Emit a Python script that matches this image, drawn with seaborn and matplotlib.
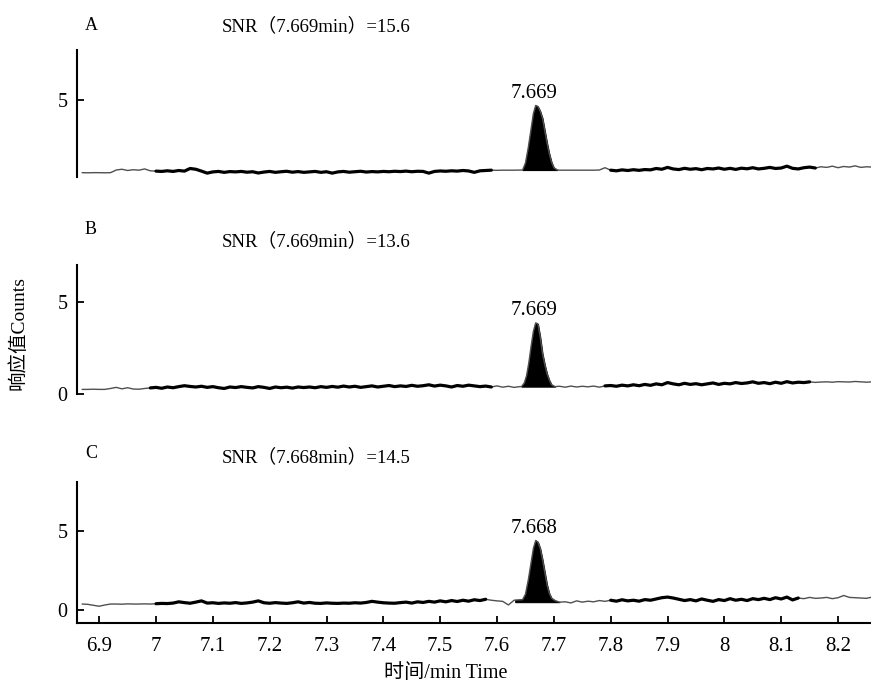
import numpy as np
import pandas as pd
import matplotlib
matplotlib.use("Agg")
import matplotlib.pyplot as plt
import seaborn as sns

# sampling grid of the baseline trace (min)
times = np.round(np.arange(6.87, 8.265, 0.01), 2)

# baseline counts, one value per 0.01 min, 6.87 .. 8.26
base_a = [0.28, 0.27, 0.28, 0.28, 0.27, 0.28, 0.45, 0.50, 0.42, 0.47,
          0.44, 0.52, 0.40, 0.38, 0.36, 0.40, 0.36, 0.42, 0.38, 0.55,
          0.50, 0.38, 0.25, 0.33, 0.36, 0.30, 0.35, 0.33, 0.36, 0.31,
          0.34, 0.26, 0.32, 0.36, 0.30, 0.34, 0.37, 0.31, 0.35, 0.30,
          0.33, 0.36, 0.30, 0.34, 0.25, 0.33, 0.36, 0.31, 0.34, 0.37,
          0.32, 0.35, 0.33, 0.36, 0.34, 0.37, 0.35, 0.38, 0.34, 0.37,
          0.36, 0.25, 0.36, 0.39, 0.37, 0.40, 0.38, 0.42, 0.39, 0.30,
          0.40, 0.42, 0.44, 0.43, 0.44, 0.44, 0.44, 0.45, 0.45, 0.45,
          0.45, 0.44, 0.44, 0.44, 0.44, 0.44, 0.44, 0.44, 0.44, 0.44,
          0.44, 0.45, 0.60, 0.44, 0.40, 0.46, 0.42, 0.47, 0.43, 0.48,
          0.46, 0.55, 0.50, 0.62, 0.52, 0.48, 0.56, 0.50, 0.54, 0.47,
          0.55, 0.52, 0.58, 0.50, 0.56, 0.49, 0.57, 0.53, 0.60, 0.52,
          0.56, 0.62, 0.55, 0.58, 0.70, 0.56, 0.52, 0.60, 0.64, 0.58,
          0.66, 0.62, 0.70, 0.60, 0.68, 0.64, 0.72, 0.62, 0.66, 0.64]
base_b = [0.25, 0.25, 0.26, 0.25, 0.25, 0.30, 0.36, 0.28, 0.34, 0.27,
          0.26, 0.30, 0.33, 0.36, 0.31, 0.38, 0.34, 0.40, 0.45, 0.41,
          0.38, 0.42, 0.36, 0.40, 0.34, 0.30, 0.38, 0.35, 0.40, 0.36,
          0.33, 0.40, 0.36, 0.30, 0.38, 0.34, 0.37, 0.32, 0.38, 0.35,
          0.38, 0.34, 0.40, 0.36, 0.41, 0.37, 0.43, 0.38, 0.42, 0.36,
          0.40, 0.44, 0.38, 0.42, 0.46, 0.40, 0.44, 0.41, 0.47, 0.42,
          0.45, 0.50, 0.43, 0.48, 0.44, 0.38, 0.46, 0.42, 0.48, 0.44,
          0.40, 0.43, 0.38, 0.44, 0.37, 0.42, 0.36, 0.40, 0.40, 0.40,
          0.40, 0.40, 0.40, 0.38, 0.42, 0.37, 0.43, 0.38, 0.42, 0.39,
          0.43, 0.37, 0.44, 0.46, 0.42, 0.48, 0.44, 0.50, 0.45, 0.52,
          0.47, 0.55, 0.50, 0.62, 0.55, 0.50, 0.58, 0.52, 0.56, 0.50,
          0.55, 0.60, 0.52, 0.58, 0.55, 0.62, 0.57, 0.60, 0.66, 0.58,
          0.62, 0.56, 0.64, 0.58, 0.67, 0.60, 0.64, 0.62, 0.66, 0.63,
          0.65, 0.66, 0.64, 0.67, 0.66, 0.65, 0.68, 0.66, 0.64, 0.66]
base_c = [0.38, 0.36, 0.30, 0.24, 0.32, 0.38, 0.38, 0.37, 0.39, 0.38,
          0.38, 0.39, 0.38, 0.40, 0.42, 0.41, 0.44, 0.52, 0.47, 0.43,
          0.50, 0.58, 0.44, 0.46, 0.42, 0.45, 0.43, 0.47, 0.42, 0.45,
          0.50, 0.58, 0.46, 0.43, 0.47, 0.44, 0.42, 0.46, 0.52, 0.44,
          0.48, 0.43, 0.42, 0.45, 0.43, 0.42, 0.44, 0.43, 0.46, 0.44,
          0.48, 0.55, 0.50, 0.46, 0.44, 0.43, 0.47, 0.50, 0.44, 0.52,
          0.48, 0.55, 0.50, 0.58, 0.52, 0.60, 0.54, 0.62, 0.56, 0.65,
          0.60, 0.68, 0.62, 0.58, 0.55, 0.32, 0.62, 0.63, 0.63, 0.63,
          0.63, 0.63, 0.60, 0.50, 0.38, 0.52, 0.45, 0.58, 0.50, 0.56,
          0.52, 0.60, 0.55, 0.62, 0.56, 0.65, 0.58, 0.62, 0.56, 0.66,
          0.62, 0.70, 0.78, 0.82, 0.76, 0.68, 0.60, 0.66, 0.58, 0.70,
          0.62, 0.55, 0.66, 0.60, 0.72, 0.62, 0.68, 0.60, 0.72, 0.66,
          0.74, 0.66, 0.78, 0.70, 0.82, 0.64, 0.76, 0.72, 0.80, 0.74,
          0.76, 0.80, 0.72, 0.78, 0.92, 0.80, 0.78, 0.76, 0.74, 0.82]

# peak profiles
peak_t_a = [7.645, 7.650, 7.655, 7.660, 7.664, 7.668, 7.672, 7.676,
            7.680, 7.684, 7.688, 7.692, 7.696, 7.700, 7.706]
peak_y_a = [0.45, 0.90, 1.90, 3.10, 4.10, 4.62, 4.55, 4.25,
            3.80, 3.00, 2.20, 1.50, 0.95, 0.60, 0.45]
peak_t_b = [7.643, 7.648, 7.652, 7.656, 7.660, 7.664, 7.668, 7.672,
            7.676, 7.680, 7.684, 7.688, 7.692, 7.696, 7.702]
peak_y_b = [0.40, 0.60, 1.00, 1.70, 2.60, 3.40, 3.86, 3.80,
            3.10, 2.20, 1.60, 1.10, 0.75, 0.50, 0.40]
peak_t_c = [7.632, 7.645, 7.650, 7.655, 7.660, 7.664, 7.668, 7.672,
            7.676, 7.680, 7.684, 7.688, 7.692, 7.696, 7.702, 7.710]
peak_y_c = [0.63, 0.66, 1.00, 1.90, 3.00, 3.90, 4.40, 4.30,
            3.90, 3.20, 2.40, 1.60, 1.05, 0.75, 0.60, 0.50]

tags = ["A", "B", "C"]
peak_rt = ["7.669", "7.669", "7.668"]
snr = ["15.6", "13.6", "14.5"]
xtick_vals = [6.9, 7.0, 7.1, 7.2, 7.3, 7.4, 7.5, 7.6, 7.7, 7.8, 7.9, 8.0, 8.1, 8.2]
xtick_labels = ["6.9", "7", "7.1", "7.2", "7.3", "7.4", "7.5", "7.6",
                "7.7", "7.8", "7.9", "8", "8.1", "8.2"]

sns.set_theme(style="white")
serif = ["Liberation Serif", "Noto Sans CJK SC", "DejaVu Sans"]
plt.rcParams["font.family"] = serif
plt.rcParams["axes.unicode_minus"] = False
plt.rcParams["text.color"] = "black"

W, H = 871, 683
fig = plt.figure(figsize=(W / 100, H / 100), dpi=100)

# axes boxes in pixels: top, bottom
boxes = [(50, 177), (265, 394), (482, 623)]
ylims = [(0, 8.2), (0, 7.0), (-0.82, 8.1)]
yticks = [[5], [0, 5], [0, 5]]
thick = [[(7.0, 7.595), (7.80, 8.16)],
         [(6.99, 7.59), (7.79, 8.15)],
         [(7.0, 7.58), (7.80, 8.13)]]
tag_y = [25, 229, 454]
snr_y = [26, 241, 457]
bases = [base_a, base_b, base_c]
peaks = [(peak_t_a, peak_y_a), (peak_t_b, peak_y_b), (peak_t_c, peak_y_c)]

left = 77
for i in range(3):
    top, bot = boxes[i]
    ax = fig.add_axes([left / W, 1 - bot / H, (W - left) / W, (bot - top) / H])

    pt, py = peaks[i]
    base = pd.DataFrame({"t": times, "y": bases[i]})
    base = base[(base.t < min(pt)) | (base.t > max(pt))]
    pk = pd.DataFrame({"t": pt, "y": py})
    df = pd.concat([base, pk]).sort_values("t").reset_index(drop=True)

    sns.lineplot(data=df, x="t", y="y", ax=ax, estimator=None, sort=False,
                 color="#505050", lw=1.0)
    for a, b in thick[i]:
        seg = df[(df.t >= a) & (df.t <= b)]
        sns.lineplot(data=seg, x="t", y="y", ax=ax, estimator=None, sort=False,
                     color="black", lw=2.3)
    floor = min(py[0], py[-1])
    ax.fill_between(pk.t, pk.y, floor, color="black", lw=0.8, edgecolor="black")

    ax.annotate(peak_rt[i], (pk.t[pk.y.idxmax()] - 0.002, max(py)),
                xytext=(0, 2), textcoords="offset points",
                ha="center", va="bottom", fontsize=15, family=serif)

    ax.set_xlim(6.861, 8.258)
    ax.set_ylim(*ylims[i])
    ax.set_yticks(yticks[i])
    ax.set_xlabel("")
    ax.set_ylabel("")
    for s in ["top", "right"]:
        ax.spines[s].set_visible(False)
    ax.spines["left"].set_linewidth(1.5)
    ax.spines["left"].set_color("black")
    ax.tick_params(axis="y", direction="in", length=5, width=1.3,
                   labelsize=14.5, pad=7, left=True, colors="black")
    if i < 2:
        ax.spines["bottom"].set_visible(False)
        ax.set_xticks([])
    else:
        ax.spines["bottom"].set_linewidth(1.5)
        ax.spines["bottom"].set_color("black")
        ax.set_xticks(xtick_vals)
        ax.set_xticklabels(xtick_labels)
        ax.tick_params(axis="x", direction="in", length=5, width=1.3,
                       labelsize=15, pad=10, bottom=True, colors="black")
    ax.patch.set_alpha(0)

    fig.text(91 / W, 1 - tag_y[i] / H, tags[i], ha="center", va="center",
             fontsize=13, family=serif)
    fig.text(222 / W, 1 - snr_y[i] / H, "SNR（" + peak_rt[i] + "min）=" + snr[i],
             ha="left", va="center", fontsize=13.5, family=serif)

fig.text(18 / W, 1 - 333 / H, "响应值Counts", rotation=90, ha="center",
         va="center", fontsize=14, family=serif)
fig.text(446 / W, 1 - 673 / H, "时间/min Time", ha="center", va="center",
         fontsize=14.5, family=serif)

fig.savefig("out.png", dpi=100)
